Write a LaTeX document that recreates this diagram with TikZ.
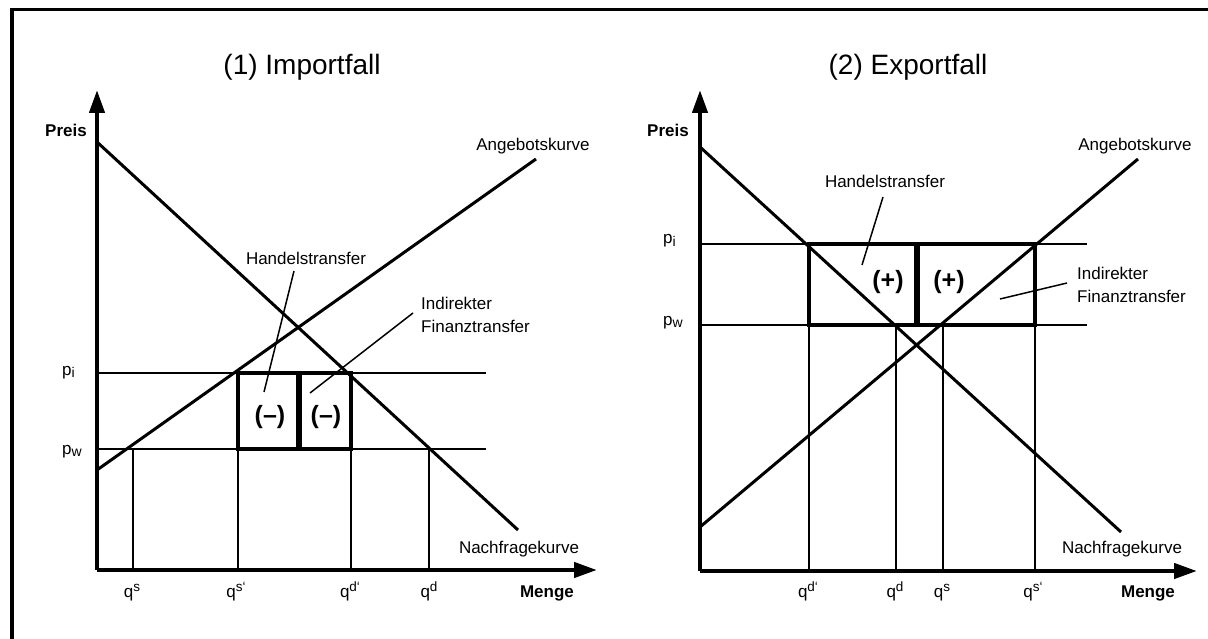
\documentclass[tikz,border=0pt]{standalone}
\usepackage{fontspec}
\setmainfont{Liberation Sans}
\usetikzlibrary{arrows.meta}
% raised and lowered indices for the price and quantity labels
\newcommand{\qidx}[1]{\raisebox{5.5pt}{\fontsize{13.5}{15}\selectfont #1}}
\newcommand{\pidx}[1]{\raisebox{-2.5pt}{\fontsize{14}{15}\selectfont #1}}
\begin{document}
\begin{tikzpicture}[x=1pt,y=-1pt,
  lbl/.style={inner sep=0pt, font=\fontsize{17}{23}\selectfont},
  boldlbl/.style={inner sep=0pt, font=\fontsize{17}{23}\selectfont\bfseries},
  sign/.style={inner sep=0pt, font=\fontsize{25}{28}\selectfont\bfseries},
  heading/.style={inner sep=0pt, font=\fontsize{28}{32}\selectfont},
  axis/.style={line width=4.3pt, -{Triangle[length=23pt,width=15pt]}},
  curve/.style={line width=3pt},
  guide/.style={line width=1.7pt},
  transferbox/.style={line width=4.5pt, line join=miter},
  divider/.style={line width=6pt},
  leader/.style={line width=1.5pt},
  frame/.style={line width=3.5pt, line join=miter}]
\useasboundingbox (0,0) rectangle (1208,639);

% outer frame
\coordinate (fb) at (12,639);
\coordinate (fc) at (12,9.5);
\coordinate (fr) at (1208,9.5);
\draw[frame] (fb) -- (fc) -- (fr);

% ---------------- (1) import case ----------------
\coordinate (o1) at (97,570);
\coordinate (y1) at (97,90);
\coordinate (x1) at (597,570);
\coordinate (d1a) at (97,142);
\coordinate (d1b) at (518,530);
\coordinate (s1a) at (97,470);
\coordinate (s1b) at (536,159);
\coordinate (pi1a) at (97,373);
\coordinate (pi1b) at (486,373);
\coordinate (pw1a) at (97,449);
\coordinate (pw1b) at (486,449);

% price levels and quantities
\draw[guide] (pi1a) -- (pi1b);
\draw[guide] (pw1a) -- (pw1b);
\foreach \q in {133, 238, 351, 429}
  \draw[guide] (\q,449) -- (\q,570);

% supply and demand
\draw[curve] (d1a) -- (d1b);
\draw[curve] (s1a) -- (s1b);

% transfer boxes
\draw[transferbox] (238,373) rectangle (351,449);
\coordinate (m1a) at (299,373);
\coordinate (m1b) at (299,449);
\draw[divider] (m1a) -- (m1b);

% axes
\draw[axis] (o1) -- (y1);
\draw[axis] (o1) -- (x1);

\node[heading] (t1) at (302,67) {(1) Importfall};
\node[boldlbl, anchor=base] (preis1) at (66,137) {Preis};
\node[boldlbl, anchor=base] (menge1) at (547,597) {Menge};
\node[lbl, anchor=base west] (pi1) at (62,375) {p\pidx{i}};
\node[lbl, anchor=base west] (pw1) at (62,454) {p\pidx{w}};
\node[lbl, anchor=base] (qs1) at (132,597) {q\qidx{s}};
\node[lbl, anchor=base] (qsp1) at (236,597) {q\qidx{s‘}};
\node[lbl, anchor=base] (qdp1) at (350,597) {q\qidx{d‘}};
\node[lbl, anchor=base] (qd1) at (429,597) {q\qidx{d}};
\node[lbl, anchor=base] (nk1) at (519,553) {Nachfragekurve};
\node[lbl, anchor=base] (ak1) at (533,151) {Angebotskurve};
\node[lbl, anchor=base] (ht1) at (306,265) {Handelstransfer};
\node[lbl, anchor=north west, align=left] (ift1) at (421,297) {Indirekter\\Finanztransfer};
\node[sign] (neg1) at (270,417) {(–)};
\node[sign] (neg2) at (326,417) {(–)};

\coordinate (l1a) at (294,271);
\coordinate (l1b) at (264,392);
\draw[leader] (l1a) -- (l1b);
\coordinate (l2a) at (413,313);
\coordinate (l2b) at (310,393);
\draw[leader] (l2a) -- (l2b);

% ---------------- (2) export case ----------------
\coordinate (o2) at (700,571);
\coordinate (y2) at (700,90);
\coordinate (x2) at (1197,571);
\coordinate (d2a) at (700,147);
\coordinate (d2b) at (1121,532);
\coordinate (s2a) at (700,527);
\coordinate (s2b) at (1138,159);
\coordinate (pi2a) at (700,244);
\coordinate (pi2b) at (1087,244);
\coordinate (pw2a) at (700,325);
\coordinate (pw2b) at (1087,325);

\draw[guide] (pi2a) -- (pi2b);
\draw[guide] (pw2a) -- (pw2b);
\foreach \q in {809, 896, 943, 1035}
  \draw[guide] (\q,325) -- (\q,571);

\draw[curve] (d2a) -- (d2b);
\draw[curve] (s2a) -- (s2b);

\draw[transferbox] (809,244) rectangle (1035,325);
\coordinate (m2a) at (917,244);
\coordinate (m2b) at (917,325);
\draw[divider] (m2a) -- (m2b);

\draw[axis] (o2) -- (y2);
\draw[axis] (o2) -- (x2);

\node[heading] (t2) at (908,67) {(2) Exportfall};
\node[boldlbl, anchor=base] (preis2) at (668,137) {Preis};
\node[boldlbl, anchor=base] (menge2) at (1148,597) {Menge};
\node[lbl, anchor=base west] (pi2) at (663,244) {p\pidx{i}};
\node[lbl, anchor=base west] (pw2) at (663,325) {p\pidx{w}};
\node[lbl, anchor=base] (qdp2) at (808,597) {q\qidx{d‘}};
\node[lbl, anchor=base] (qd2) at (895,597) {q\qidx{d}};
\node[lbl, anchor=base] (qs2) at (942,597) {q\qidx{s}};
\node[lbl, anchor=base] (qsp2) at (1033,597) {q\qidx{s‘}};
\node[lbl, anchor=base] (nk2) at (1122,553) {Nachfragekurve};
\node[lbl, anchor=base] (ak2) at (1135,151) {Angebotskurve};
\node[lbl, anchor=base] (ht2) at (885,188) {Handelstransfer};
\node[lbl, anchor=north west, align=left] (ift2) at (1077,267) {Indirekter\\Finanztransfer};
\node[sign] (pos1) at (888,282) {(+)};
\node[sign] (pos2) at (949,282) {(+)};

\coordinate (l3a) at (883,197);
\coordinate (l3b) at (862,265);
\draw[leader] (l3a) -- (l3b);
\coordinate (l4a) at (1067,283);
\coordinate (l4b) at (1000,299);
\draw[leader] (l4a) -- (l4b);
\end{tikzpicture}
\end{document}
